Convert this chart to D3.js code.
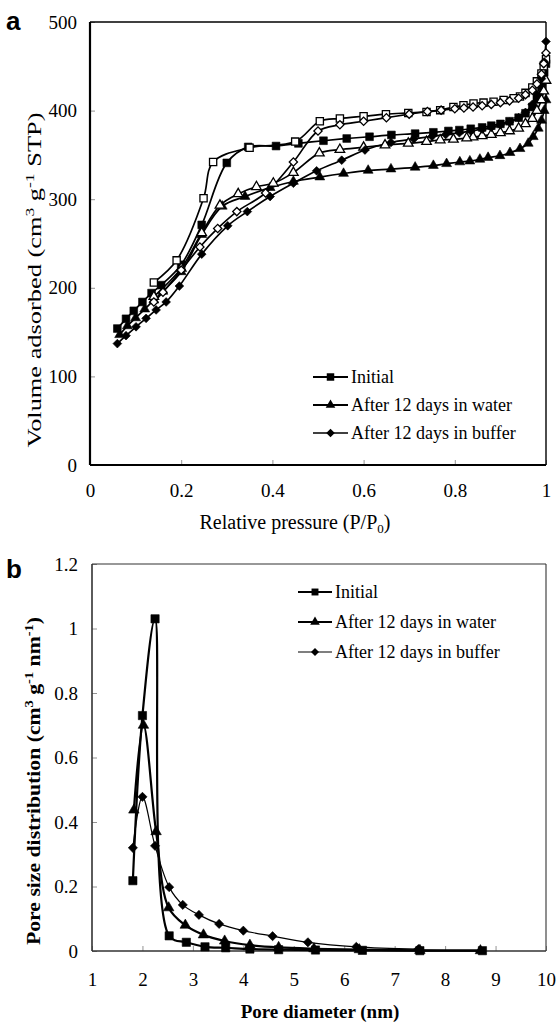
<!DOCTYPE html>
<html>
<head>
<meta charset="utf-8">
<script src="https://cdn.jsdelivr.net/npm/d3@7"></script>
<style>
  body { margin: 0; background: #fff; }
  text { font-family: "Liberation Serif", "Times New Roman", serif; fill: #000; }
  .panel-letter { font-family: "Liberation Sans", Arial, sans-serif; font-weight: bold; }
</style>
</head>
<body>
<div class="chart"></div>
<script>
// ===== panel a : N2 isotherms, [P/P0, volume] =====
const initialAds = [[0.06,154],[0.079,165],[0.096,174],[0.115,184],[0.135,194],[0.156,203],[0.2,226],[0.245,271],
  [0.3,341],[0.347,359],[0.408,360],[0.457,363],[0.512,366],[0.563,368.5],[0.613,370.5],[0.661,372.5],[0.713,374],
  [0.753,375.5],[0.786,377],[0.81,378],[0.835,379.5],[0.86,381],[0.88,383],[0.9,385],[0.92,388],[0.94,392],
  [0.955,397],[0.97,404],[0.98,413],[0.99,428],[0.996,443],[1.0,453]];
const initialDes = [[1.0,458],[0.995,450],[0.99,442],[0.98,433],[0.97,426],[0.955,420],[0.943,416],[0.929,414],
  [0.907,412],[0.885,410],[0.863,409],[0.841,408],[0.819,406],[0.797,404],[0.768,400.5],[0.738,398.5],[0.698,397.4],
  [0.649,396],[0.6,393.6],[0.548,391],[0.504,388],[0.45,365],[0.35,358],[0.27,342],[0.249,301],[0.19,231],[0.14,206]];
const waterAds = [[0.065,147],[0.082,157],[0.1,166],[0.12,176],[0.14,186],[0.16,196],[0.2,218],[0.245,260],
  [0.29,292],[0.34,303],[0.395,313],[0.446,320],[0.504,325],[0.556,329],[0.61,332.5],[0.66,334],[0.713,336],
  [0.753,338],[0.782,340],[0.811,342],[0.833,343],[0.855,345],[0.873,347],[0.899,349],[0.921,352.5],[0.943,357],
  [0.961,363],[0.972,370.5],[0.983,380],[0.99,389],[0.996,400],[1.0,412]];
const waterDes = [[1.0,434],[0.995,422],[0.99,412],[0.98,400],[0.97,391],[0.955,385],[0.94,380],[0.92,377],
  [0.9,375],[0.88,373],[0.86,371.5],[0.84,370],[0.826,369],[0.797,367.5],[0.768,366.8],[0.738,365],[0.698,363],
  [0.647,361],[0.6,358.5],[0.548,356],[0.503,352],[0.446,330],[0.402,318],[0.365,314],[0.325,306],[0.285,293],
  [0.245,262],[0.2,222],[0.14,190]];
const bufferAds = [[0.06,137],[0.079,146],[0.101,156],[0.123,165.5],[0.145,175],[0.167,184],[0.196,202],[0.245,238],
  [0.302,270],[0.345,286],[0.395,303],[0.446,318],[0.497,332],[0.552,344],[0.603,355.5],[0.66,364],[0.71,368],
  [0.75,371],[0.78,373],[0.81,375],[0.835,377],[0.86,379],[0.88,381],[0.9,384],[0.92,387],[0.94,392],[0.955,398],
  [0.97,407],[0.98,418],[0.99,436],[0.996,455],[1.0,478]];
const bufferDes = [[1.0,465],[0.995,453],[0.99,441],[0.98,430],[0.97,423],[0.955,418],[0.94,414],[0.92,411],
  [0.9,409],[0.88,407],[0.86,405.5],[0.84,404],[0.82,403],[0.8,402],[0.77,400.5],[0.74,399],[0.7,396],[0.65,392],
  [0.6,388],[0.548,384],[0.5,377],[0.446,342],[0.385,307],[0.322,286],[0.28,267],[0.241,246],[0.2,220],[0.16,195],
  [0.14,184]];

const xTicksA = [0, 0.2, 0.4, 0.6, 0.8, 1];
const yTicksA = [0, 100, 200, 300, 400, 500];

// ===== panel b : pore size distribution, [diameter nm, dV/dD] =====
const initialPsd = [[1.81,0.218],[2.0,0.73],[2.25,1.03],[2.53,0.047],[2.87,0.027],[3.24,0.013],[3.65,0.01],
  [4.13,0.006],[4.7,0.004],[5.43,0.003],[6.36,0.002],[7.5,0.001],[8.74,0.001]];
const waterPsd = [[1.83,0.437],[2.02,0.70],[2.27,0.37],[2.52,0.134],[2.85,0.08],[3.21,0.05],[3.63,0.031],
  [4.13,0.018],[4.7,0.011],[5.4,0.007],[6.3,0.004],[7.5,0.002],[8.7,0.001]];
const bufferPsd = [[1.81,0.32],[2.0,0.478],[2.25,0.326],[2.53,0.198],[2.8,0.143],[3.12,0.112],[3.52,0.084],
  [4.0,0.063],[4.58,0.046],[5.28,0.027],[6.24,0.013],[7.47,0.006]];

const xTicksB = [1, 2, 3, 4, 5, 6, 7, 8, 9, 10];
const yTicksB = [0, 0.2, 0.4, 0.6, 0.8, 1, 1.2];

const seriesNames = ["Initial", "After 12 days in water", "After 12 days in buffer"];

const svg = d3.select(".chart").append("svg")
    .attr("width", 557)
    .attr("height", 1024);

// marker shapes
const shapes = {
    square:   { type: d3.symbolSquare,   rotate: 0 },
    triangle: { type: d3.symbolTriangle, rotate: 0 },
    diamond:  { type: d3.symbolSquare,   rotate: 45 }
};

function drawMarkers(g, data, x, y, shape, size, filled) {
    const sym = d3.symbol().type(shapes[shape].type).size(size);
    g.selectAll(null)
        .data(data)
        .join("path")
        .attr("d", sym)
        .attr("transform", d => `translate(${x(d[0])},${y(d[1])}) rotate(${shapes[shape].rotate})`)
        .attr("fill", filled ? "#000" : "#fff")
        .attr("stroke", "#000")
        .attr("stroke-width", filled ? 0.6 : 1.3);
}

function drawPanel(cfg) {
    const margin = cfg.margin;
    const width = cfg.width, height = cfg.height;

    const g = svg.append("g")
        .attr("transform", `translate(${margin.left},${margin.top})`);

    const xScale = d3.scaleLinear().domain(cfg.xDomain).range([0, width]);
    const yScale = d3.scaleLinear().domain(cfg.yDomain).range([height, 0]);

    // axes, ticks pointing inward
    const xAxis = d3.axisBottom(xScale).tickValues(cfg.xTicks).tickFormat(d3.format(""))
        .tickSizeInner(-5).tickSizeOuter(0).tickPadding(cfg.xPad);
    const yAxis = d3.axisLeft(yScale).tickValues(cfg.yTicks).tickFormat(d3.format(""))
        .tickSizeInner(-5).tickSizeOuter(0).tickPadding(cfg.yPad);

    const xAxisG = g.append("g").attr("transform", `translate(0,${height})`).call(xAxis);
    const yAxisG = g.append("g").call(yAxis);
    [xAxisG, yAxisG].forEach(a => {
        a.select(".domain").remove();
        a.selectAll(".tick line").attr("stroke", "#777").attr("stroke-width", 0.8);
        a.selectAll(".tick text").attr("font-size", cfg.tickFont)
            .attr("font-family", "Liberation Serif, Times New Roman, serif");
    });

    // frame
    const fr = cfg.frame;
    g.append("line").attr("x1", 0).attr("x2", width).attr("y1", 0).attr("y2", 0)
        .attr("stroke", fr.color).attr("stroke-width", fr.thin);
    g.append("line").attr("x1", width).attr("x2", width).attr("y1", 0).attr("y2", height)
        .attr("stroke", fr.color).attr("stroke-width", fr.thin);
    g.append("line").attr("x1", 0).attr("x2", 0).attr("y1", 0).attr("y2", height)
        .attr("stroke", fr.color).attr("stroke-width", fr.thick);
    g.append("line").attr("x1", 0).attr("x2", width).attr("y1", height).attr("y2", height)
        .attr("stroke", fr.color).attr("stroke-width", fr.thick);

    // series
    const line = d3.line()
        .x(d => xScale(d[0]))
        .y(d => yScale(d[1]))
        .curve(d3.curveCatmullRom);

    cfg.series.forEach(s => {
        g.append("path")
            .datum(s.data)
            .attr("d", line)
            .attr("fill", "none")
            .attr("stroke", "#000")
            .attr("stroke-width", s.lw)
            .attr("stroke-linejoin", "miter");
    });
    cfg.series.forEach(s => {
        drawMarkers(g, s.data, xScale, yScale, s.shape, s.size, s.filled);
    });

    // legend
    const lg = cfg.legend;
    seriesNames.forEach((name, i) => {
        const yy = lg.y + i * lg.step;
        const row = svg.append("g").attr("transform", `translate(${lg.x},${yy})`);
        row.append("line").attr("x1", 0).attr("x2", lg.len).attr("y1", 0).attr("y2", 0)
            .attr("stroke", "#000").attr("stroke-width", lg.lw[i]);
        const sym = d3.symbol().type(shapes[lg.shapes[i]].type).size(lg.size[i]);
        row.append("path").attr("d", sym)
            .attr("transform", `translate(${lg.len / 2},0) rotate(${shapes[lg.shapes[i]].rotate})`)
            .attr("fill", "#000");
        row.append("text")
            .attr("x", lg.len + 3)
            .attr("y", 6)
            .attr("font-size", lg.font)
            .text(name);
    });

    return { g, xScale, yScale };
}

// ---------- panel a ----------
drawPanel({
    margin: { left: 90, top: 22 },
    width: 456, height: 443,
    xDomain: [0, 1], yDomain: [0, 500],
    xTicks: xTicksA, yTicks: yTicksA,
    xPad: 19, yPad: 13, tickFont: 19,
    frame: { color: "#000", thin: 1.4, thick: 2.2 },
    series: [
        { data: initialAds, shape: "square",   filled: true,  size: 60, lw: 1.7 },
        { data: initialDes, shape: "square",   filled: false, size: 52, lw: 1.7 },
        { data: waterAds,   shape: "triangle", filled: true,  size: 42, lw: 1.7 },
        { data: waterDes,   shape: "triangle", filled: false, size: 40, lw: 1.7 },
        { data: bufferAds,  shape: "diamond",  filled: true,  size: 38, lw: 1.7 },
        { data: bufferDes,  shape: "diamond",  filled: false, size: 34, lw: 1.7 }
    ],
    legend: { x: 313, y: 377, step: 28, len: 35, font: 18,
              shapes: ["square", "triangle", "diamond"], size: [56, 40, 36], lw: [2, 2, 1.7] }
});

// ---------- panel b ----------
drawPanel({
    margin: { left: 92, top: 564 },
    width: 454, height: 387,
    xDomain: [1, 10], yDomain: [0, 1.2],
    xTicks: xTicksB, yTicks: yTicksB,
    xPad: 22, yPad: 14, tickFont: 19,
    frame: { color: "#333", thin: 1.1, thick: 1.6 },
    series: [
        { data: initialPsd, shape: "square",   filled: true, size: 68, lw: 2.2 },
        { data: waterPsd,   shape: "triangle", filled: true, size: 48, lw: 2.2 },
        { data: bufferPsd,  shape: "diamond",  filled: true, size: 42, lw: 1.2 }
    ],
    legend: { x: 298, y: 592, step: 30, len: 34, font: 18,
              shapes: ["square", "triangle", "diamond"], size: [48, 40, 32], lw: [2, 2, 1.2] }
});

// ---------- titles & labels ----------
svg.append("text").attr("class", "panel-letter").attr("x", 6).attr("y", 30)
    .attr("font-size", 26).text("a");
svg.append("text").attr("class", "panel-letter").attr("x", 6).attr("y", 578)
    .attr("font-size", 26).text("b");

// panel a axis titles
const xLabA = svg.append("text").attr("x", 295).attr("y", 529)
    .attr("text-anchor", "middle").attr("font-size", 20);
xLabA.append("tspan").text("Relative pressure (P/P");
xLabA.append("tspan").attr("font-size", 13).attr("dy", 4).text("0");
xLabA.append("tspan").attr("dy", -4).text(")");

const yLabA = svg.append("text")
    .attr("transform", "translate(41,280) rotate(-90)")
    .attr("text-anchor", "middle").attr("font-size", 18)
    .attr("textLength", 335).attr("lengthAdjust", "spacingAndGlyphs");
yLabA.append("tspan").text("Volume adsorbed (cm");
yLabA.append("tspan").attr("font-size", 12).attr("dy", -7).text("3");
yLabA.append("tspan").attr("dy", 7).text(" g");
yLabA.append("tspan").attr("font-size", 12).attr("dy", -7).text("-1");
yLabA.append("tspan").attr("dy", 7).text(" STP)");

// panel b axis titles
svg.append("text").attr("x", 320).attr("y", 1018)
    .attr("text-anchor", "middle").attr("font-size", 19).attr("font-weight", "bold")
    .text("Pore diameter (nm)");

const yLabB = svg.append("text")
    .attr("transform", "translate(40,781) rotate(-90)")
    .attr("text-anchor", "middle").attr("font-size", 18).attr("font-weight", "bold")
    .attr("textLength", 328).attr("lengthAdjust", "spacingAndGlyphs");
yLabB.append("tspan").text("Pore size distribution (cm");
yLabB.append("tspan").attr("font-size", 12).attr("dy", -7).text("3");
yLabB.append("tspan").attr("dy", 7).text(" g");
yLabB.append("tspan").attr("font-size", 12).attr("dy", -7).text("-1");
yLabB.append("tspan").attr("dy", 7).text(" nm");
yLabB.append("tspan").attr("font-size", 12).attr("dy", -7).text("-1");
yLabB.append("tspan").attr("dy", 7).text(")");
</script>
</body>
</html>
